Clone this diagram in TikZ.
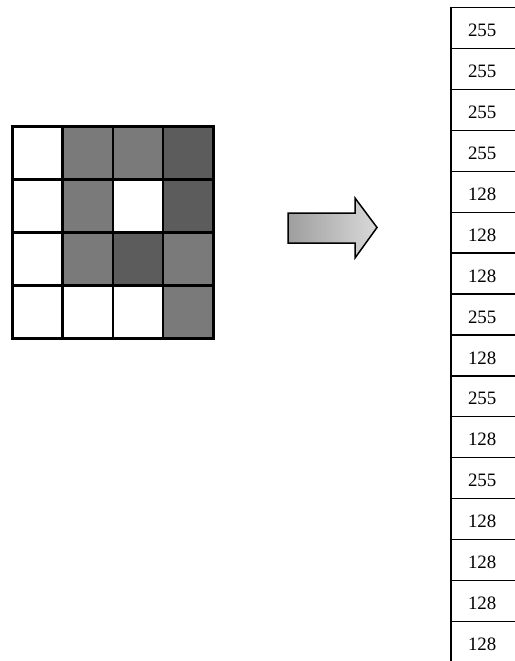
\documentclass[tikz,border=0pt]{standalone}
\usepackage{fontspec}
\setmainfont{Liberation Serif}
\begin{document}
\begin{tikzpicture}[x=1bp,y=-1bp,
  cell/.style={draw=black, line width=2.5bp, minimum width=50.25bp, minimum height=53bp, inner sep=0pt, anchor=north west},
  valbox/.style={draw=black, line width=1.4bp, minimum width=66bp, minimum height=40.9bp, inner sep=0pt, anchor=north west},
  valtext/.style={font=\fontsize{19}{19}\selectfont, inner sep=0pt, xshift=-2.5bp, yshift=-2.5bp},
  gwht/.style={fill=white},
  gmid/.style={fill=black!52},
  gdark/.style={fill=black!64},
  bigarrow/.style={draw=black, line width=1.5bp, left color=black!38, right color=black!15}]
\useasboundingbox (0,0) rectangle (515,661);
\clip (0,0) rectangle (515,661);
% 4x4 grid
\foreach \r/\c/\f in {1/1/gwht,1/2/gmid,1/3/gmid,1/4/gdark,
                       2/1/gwht,2/2/gmid,2/3/gwht,2/4/gdark,
                       3/1/gwht,3/2/gmid,3/3/gdark,3/4/gmid,
                       4/1/gwht,4/2/gwht,4/3/gwht,4/4/gmid}
  \node[cell,\f] (c\r\c) at ({11+50.25*(\c-1)},{125+53*(\r-1)}) {};
% arrow
\draw[bigarrow] (288,213) -- (355,213) -- (355,198) -- (377,227.5) -- (355,258) -- (355,243) -- (288,243) -- cycle;
% column of values
\foreach \v [count=\i] in {255,255,255,255,128,128,128,255,128,255,128,255,128,128,128,128} {
  \node[valbox] (v\i) at (451,{7+40.9*(\i-1)}) {};
  \node[valtext] (t\i) at (v\i.center) {\v};
}
\draw[line width=2.4bp] (v1.north west) -- (v16.south west);
\end{tikzpicture}
\end{document}
